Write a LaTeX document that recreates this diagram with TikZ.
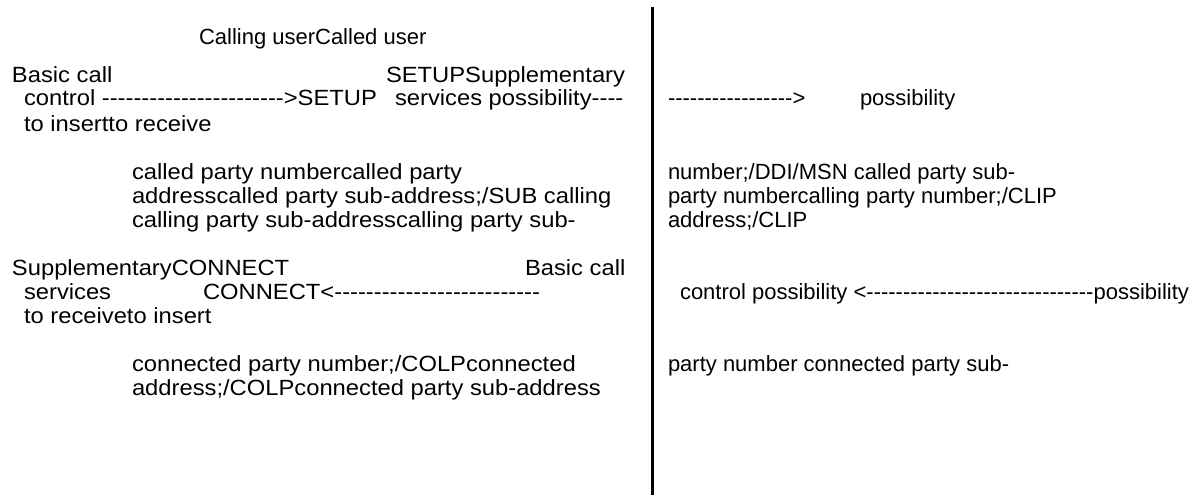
\documentclass[tikz,border=0pt]{standalone}
\usepackage{fontspec}
\setmainfont{Liberation Sans}[Ligatures=TeXOff]
% the left half of the sheet is set slightly wider
\newfontfamily\widesans{Liberation Sans}[Ligatures=TeXOff,FakeStretch=1.08]
\begin{document}
\begin{tikzpicture}[x=1pt,y=-1pt,
  txt/.style={anchor=base west,inner sep=0pt,outer sep=0pt,font=\fontsize{22}{24}\selectfont},
  ltxt/.style={txt,font=\widesans\fontsize{22}{24}\selectfont}]
\useasboundingbox (0,0) rectangle (1197,495);
% divider between the two users
\coordinate (divtop) at (652.5,7);
\coordinate (divbot) at (652.5,495);
\draw[line width=3pt] (divtop) -- (divbot);
% heading
\node[txt] (head) at (199,45) {Calling userCalled user};
% SETUP exchange
\node[ltxt] (l1) at (12,82) {Basic call};
\node[ltxt] (l1b) at (386,82) {SETUPSupplementary};
\node[ltxt] (l2) at (24,106) {control -----------------------{>}SETUP};
\node[ltxt] (l2b) at (395,106) {services possibility----};
\node[txt] (l2c) at (668,106) {-----------------{>}};
\node[txt] (l2d) at (860,106) {possibility};
\node[ltxt] (l3) at (24,131) {to insertto receive};
% SETUP parameters
\node[ltxt] (p1) at (132,179) {called party numbercalled party};
\node[ltxt] (p2) at (132,203) {addresscalled party sub-address;/SUB calling};
\node[ltxt] (p3) at (132,227) {calling party sub-addresscalling party sub-};
\node[txt] (q1) at (668,179) {number;/DDI/MSN called party sub-};
\node[txt] (q2) at (668,203) {party numbercalling party number;/CLIP};
\node[txt] (q3) at (668,227) {address;/CLIP};
% CONNECT exchange
\node[ltxt] (m1) at (12,275) {SupplementaryCONNECT};
\node[ltxt] (m1b) at (525,275) {Basic call};
\node[ltxt] (m2) at (24,299) {services};
\node[ltxt] (m2b) at (203,299) {CONNECT{<}--------------------------};
\node[txt] (m2c) at (680,299) {control possibility {<}-------------------------------possibility};
\node[ltxt] (m3) at (24,323) {to receiveto insert};
% CONNECT parameters
\node[ltxt] (r1) at (132,371) {connected party number;/COLPconnected};
\node[ltxt] (r2) at (132,395) {address;/COLPconnected party sub-address};
\node[txt] (s1) at (668,371) {party number connected party sub-};
\end{tikzpicture}
\end{document}
